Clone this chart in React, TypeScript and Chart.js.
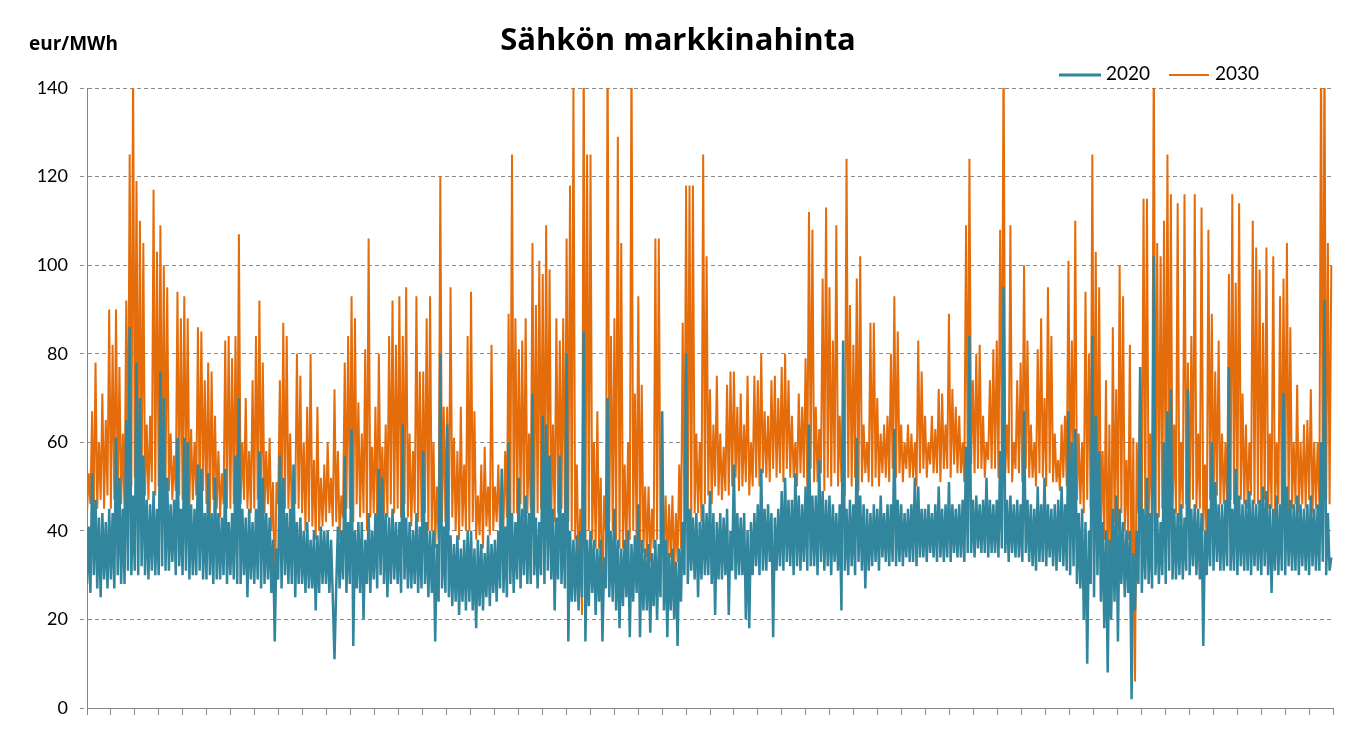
import React, { useEffect, useRef } from 'react';
import { Chart, registerables } from 'chart.js';

Chart.register(...registerables);

const TITLE = 'Sähkön markkinahinta';
const UNIT_LABEL = 'eur/MWh';
const SERIES_NAMES = ['2020', '2030'];
const SERIES_COLORS = ['#31859C', '#E46C0A'];
const HOURS_PER_SAMPLE = 12;
const HOURS_PER_YEAR = 8760;
const WEEK_HOURS = 168;
const Y_MIN = 0;
const Y_MAX = 140;
const Y_STEP = 20;

// 2020 market price, twice-daily samples (eur/MWh), one row per week
const price2020 = [
  28, 41, 26, 53, 30, 47, 27, 43, 25, 44, 29, 42, 27, 45,
  29, 44, 27, 61, 30, 52, 28, 45, 28, 65, 31, 86, 30, 48,
  31, 78, 30, 70, 32, 57, 30, 47, 29, 46, 31, 49, 30, 45,
  30, 76, 32, 70, 31, 52, 31, 46, 33, 47, 30, 61, 32, 45,
  30, 61, 31, 60, 29, 46, 30, 45, 30, 55, 31, 54, 29, 44,
  29, 53, 30, 44, 28, 52, 29, 44, 29, 43, 30, 54, 28, 42,
  30, 44, 29, 57, 28, 70, 28, 45, 30, 43, 25, 45, 29, 42,
  28, 45, 29, 58, 27, 52, 28, 44, 29, 43, 26, 38, 15, 36,
  29, 57, 27, 52, 30, 44, 28, 45, 28, 55, 25, 42, 28, 43,
  28, 40, 26, 42, 27, 38, 27, 40, 22, 39, 26, 41, 28, 40,
  28, 40, 26, 38, 25, 11, 27, 41, 27, 40, 29, 57, 26, 42,
  28, 63, 14, 40, 27, 42, 26, 42, 20, 38, 28, 44, 26, 40,
  29, 44, 27, 54, 30, 52, 28, 44, 25, 43, 28, 45, 29, 42,
  28, 42, 26, 64, 29, 43, 27, 42, 27, 40, 28, 44, 26, 41,
  27, 58, 28, 42, 25, 40, 26, 40, 15, 37, 24, 80, 27, 41,
  26, 64, 25, 39, 23, 37, 24, 39, 21, 36, 24, 38, 22, 40,
  24, 40, 22, 36, 18, 38, 23, 37, 22, 35, 25, 39, 23, 37,
  26, 38, 24, 40, 27, 54, 26, 41, 25, 60, 28, 44, 26, 42,
  29, 52, 27, 45, 30, 48, 28, 44, 28, 71, 30, 43, 27, 42,
  30, 66, 28, 64, 31, 57, 29, 45, 22, 43, 29, 57, 28, 44,
  27, 80, 15, 40, 24, 38, 24, 39, 22, 40, 25, 85, 15, 38,
  23, 40, 26, 38, 21, 36, 24, 38, 15, 34, 27, 70, 25, 40,
  24, 45, 22, 38, 18, 36, 23, 38, 25, 40, 16, 37, 24, 39,
  26, 46, 16, 38, 22, 36, 22, 37, 17, 35, 23, 38, 20, 37,
  25, 67, 22, 38, 16, 35, 22, 36, 20, 33, 14, 36, 24, 42,
  30, 80, 28, 45, 31, 43, 29, 44, 25, 42, 29, 46, 30, 44,
  30, 49, 28, 44, 21, 42, 29, 44, 29, 43, 30, 45, 21, 40,
  31, 55, 29, 44, 30, 43, 30, 44, 20, 40, 18, 42, 30, 44,
  32, 46, 30, 54, 31, 45, 31, 46, 33, 44, 16, 43, 31, 45,
  32, 49, 31, 52, 33, 47, 32, 47, 30, 53, 32, 48, 31, 46,
  33, 50, 31, 64, 32, 48, 32, 48, 30, 56, 33, 49, 31, 47,
  32, 48, 30, 46, 33, 44, 31, 46, 22, 83, 31, 45, 30, 47,
  32, 46, 30, 61, 33, 48, 31, 46, 27, 45, 31, 44, 32, 46,
  33, 45, 31, 48, 34, 44, 33, 46, 32, 46, 33, 63, 32, 47,
  33, 46, 32, 44, 34, 45, 33, 46, 33, 52, 32, 50, 34, 45,
  34, 45, 33, 46, 35, 44, 34, 46, 33, 50, 34, 45, 33, 46,
  34, 51, 33, 46, 35, 45, 34, 46, 34, 47, 33, 59, 35, 84,
  35, 47, 34, 48, 36, 46, 35, 47, 35, 52, 34, 47, 35, 46,
  35, 47, 34, 58, 36, 95, 35, 47, 33, 48, 35, 46, 34, 47,
  34, 46, 33, 67, 35, 47, 33, 46, 32, 45, 31, 50, 33, 46,
  33, 52, 32, 46, 34, 45, 32, 46, 31, 47, 33, 50, 32, 46,
  31, 67, 30, 60, 32, 63, 28, 44, 27, 45, 20, 42, 10, 40,
  28, 84, 25, 66, 30, 58, 24, 42, 18, 40, 8, 38, 20, 45,
  24, 48, 15, 45, 28, 42, 25, 40, 26, 40, 2, 35, 22, 40,
  28, 77, 26, 45, 29, 52, 28, 44, 27, 102, 30, 44, 28, 42,
  30, 60, 28, 67, 31, 72, 29, 45, 29, 44, 30, 46, 29, 43,
  31, 72, 30, 45, 32, 46, 30, 45, 29, 44, 14, 40, 30, 45,
  32, 60, 31, 51, 33, 46, 31, 46, 31, 47, 32, 77, 31, 45,
  31, 54, 30, 48, 32, 46, 31, 47, 31, 49, 30, 47, 32, 46,
  31, 47, 30, 50, 32, 49, 30, 46, 26, 45, 31, 48, 30, 46,
  31, 71, 30, 50, 32, 47, 31, 46, 31, 48, 30, 46, 32, 45,
  31, 46, 30, 48, 32, 45, 31, 46, 31, 60, 33, 92, 30, 44,
  31, 34,
];

// 2030 market price, twice-daily samples (eur/MWh), one row per week
const price2030 = [
  44, 53, 46, 67, 43, 78, 45, 60, 47, 71, 45, 65, 48, 90,
  45, 82, 47, 90, 46, 77, 46, 62, 44, 92, 48, 125, 50, 145,
  52, 119, 49, 110, 50, 105, 48, 64, 47, 66, 51, 117, 48, 103,
  50, 109, 48, 100, 51, 95, 49, 62, 47, 57, 49, 94, 48, 88,
  47, 93, 49, 88, 46, 63, 47, 60, 48, 86, 47, 85, 49, 74,
  46, 78, 44, 76, 47, 66, 45, 58, 43, 53, 46, 83, 45, 84,
  45, 79, 46, 84, 44, 107, 46, 60, 47, 70, 45, 58, 44, 74,
  45, 84, 47, 92, 44, 78, 44, 58, 46, 61, 40, 51, 23, 51,
  46, 74, 44, 87, 45, 84, 45, 62, 43, 52, 46, 80, 45, 75,
  44, 60, 40, 68, 42, 80, 41, 56, 38, 68, 40, 52, 41, 55,
  42, 60, 44, 52, 41, 72, 42, 58, 38, 48, 43, 78, 45, 84,
  45, 93, 42, 88, 46, 69, 43, 62, 44, 81, 40, 106, 43, 59,
  44, 68, 42, 80, 45, 59, 44, 64, 43, 84, 46, 92, 44, 82,
  45, 93, 43, 84, 46, 95, 43, 62, 41, 58, 44, 93, 42, 76,
  42, 76, 44, 88, 40, 93, 40, 60, 36, 50, 38, 120, 42, 68,
  42, 68, 40, 95, 43, 61, 40, 58, 38, 68, 41, 55, 40, 84,
  40, 94, 42, 67, 38, 48, 39, 55, 36, 59, 41, 50, 39, 82,
  40, 50, 42, 55, 39, 52, 41, 58, 43, 89, 41, 125, 44, 88,
  44, 81, 46, 83, 43, 88, 44, 62, 45, 105, 42, 91, 44, 101,
  45, 98, 43, 109, 46, 99, 44, 64, 42, 88, 44, 83, 45, 88,
  44, 106, 42, 118, 40, 140, 38, 55, 30, 45, 21, 150, 35, 125,
  40, 125, 38, 60, 36, 67, 36, 52, 22, 48, 40, 150, 42, 84,
  40, 88, 38, 129, 36, 105, 36, 55, 35, 60, 38, 150, 40, 71,
  38, 93, 36, 73, 35, 50, 34, 50, 33, 45, 36, 106, 38, 106,
  38, 52, 35, 48, 32, 46, 34, 48, 30, 44, 33, 55, 36, 87,
  42, 118, 45, 118, 40, 118, 44, 62, 44, 60, 42, 125, 46, 102,
  48, 72, 46, 64, 50, 75, 48, 62, 47, 59, 49, 73, 48, 76,
  50, 76, 52, 68, 49, 71, 50, 64, 51, 75, 48, 60, 50, 75,
  52, 74, 50, 80, 53, 67, 52, 66, 51, 74, 54, 75, 52, 70,
  53, 77, 51, 80, 54, 74, 52, 66, 52, 60, 50, 71, 53, 68,
  52, 79, 50, 112, 54, 108, 51, 68, 51, 63, 53, 97, 49, 113,
  52, 95, 50, 83, 53, 109, 50, 66, 51, 70, 48, 124, 52, 91,
  50, 82, 52, 97, 49, 102, 51, 64, 53, 60, 51, 87, 50, 87,
  52, 70, 50, 62, 53, 64, 52, 66, 51, 80, 54, 93, 52, 85,
  53, 64, 51, 60, 54, 64, 52, 62, 52, 60, 50, 83, 53, 76,
  54, 66, 52, 60, 55, 66, 53, 63, 53, 72, 51, 71, 54, 64,
  54, 89, 52, 72, 55, 68, 53, 66, 53, 60, 51, 109, 54, 124,
  55, 74, 53, 80, 54, 82, 54, 66, 52, 60, 56, 74, 54, 81,
  54, 83, 52, 108, 55, 150, 53, 64, 53, 109, 51, 60, 54, 74,
  53, 78, 51, 100, 54, 83, 52, 64, 52, 60, 50, 81, 53, 88,
  52, 70, 50, 95, 53, 84, 51, 62, 51, 56, 49, 64, 52, 66,
  50, 101, 48, 83, 51, 110, 47, 62, 46, 60, 44, 94, 47, 80,
  45, 125, 43, 103, 40, 95, 40, 58, 38, 74, 28, 64, 22, 86,
  42, 72, 40, 100, 44, 93, 40, 56, 38, 82, 25, 61, 6, 60,
  44, 77, 42, 115, 45, 115, 43, 62, 40, 150, 44, 105, 43, 102,
  45, 110, 43, 125, 46, 116, 44, 64, 44, 114, 42, 60, 45, 116,
  46, 78, 44, 84, 47, 116, 45, 62, 45, 113, 40, 55, 35, 108,
  47, 89, 45, 76, 48, 83, 46, 62, 46, 60, 44, 98, 47, 116,
  46, 96, 44, 114, 47, 71, 46, 64, 45, 60, 48, 110, 46, 104,
  46, 99, 44, 87, 47, 104, 45, 62, 45, 102, 43, 60, 46, 93,
  45, 97, 47, 105, 44, 86, 45, 60, 46, 73, 44, 60, 46, 64,
  45, 65, 47, 72, 44, 60, 45, 60, 46, 150, 48, 150, 47, 105,
  46, 100,
];

const FONT = 'Lato, "Open Sans", sans-serif';
const TITLE_FONT = '"Open Sans", Lato, sans-serif';

const overlayPlugin = {
  id: 'overlayTexts',
  afterDraw(chart: any) {
    const ctx = chart.ctx as CanvasRenderingContext2D;
    ctx.save();
    ctx.fillStyle = '#000000';
    ctx.textBaseline = 'middle';
    // title
    ctx.font = `bold 31px ${TITLE_FONT}`;
    ctx.textAlign = 'center';
    ctx.fillText(TITLE, 678, 41);
    // unit label
    ctx.font = `bold 19px ${TITLE_FONT}`;
    ctx.textAlign = 'left';
    ctx.fillText(UNIT_LABEL, 29, 45);
    // legend
    const legendItems = [
      { x1: 1059, x2: 1101, tx: 1106, w: 3 },
      { x1: 1169, x2: 1209, tx: 1215, w: 2 },
    ];
    ctx.font = `19px ${FONT}`;
    legendItems.forEach((it, i) => {
      ctx.strokeStyle = SERIES_COLORS[i];
      ctx.lineWidth = it.w;
      ctx.beginPath();
      ctx.moveTo(it.x1, 75);
      ctx.lineTo(it.x2, 75);
      ctx.stroke();
      ctx.fillStyle = '#000000';
      ctx.fillText(SERIES_NAMES[i], it.tx, 74);
    });
    ctx.restore();
  },
};

export default function App() {
  const canvasRef = useRef<HTMLCanvasElement | null>(null);

  useEffect(() => {
    if (!canvasRef.current) return;
    const toPoints = (arr: number[]) => arr.map((v, i) => ({ x: i * HOURS_PER_SAMPLE, y: v }));
    const chart = new Chart(canvasRef.current, {
      type: 'line',
      data: {
        datasets: [
          {
            label: SERIES_NAMES[0],
            data: toPoints(price2020),
            borderColor: SERIES_COLORS[0],
            backgroundColor: SERIES_COLORS[0],
            borderWidth: 2.5,
            pointRadius: 0,
            tension: 0,
            order: 0,
          },
          {
            label: SERIES_NAMES[1],
            data: toPoints(price2030),
            borderColor: SERIES_COLORS[1],
            backgroundColor: SERIES_COLORS[1],
            borderWidth: 2,
            pointRadius: 0,
            tension: 0,
            order: 1,
          },
        ],
      },
      options: {
        responsive: false,
        animation: false,
        events: [],
        layout: { padding: { top: 88, right: 25, left: 0, bottom: 0 } },
        plugins: {
          legend: { display: false },
          title: { display: false },
          tooltip: { enabled: false },
        },
        scales: {
          x: {
            type: 'linear',
            min: 0,
            max: HOURS_PER_YEAR,
            afterFit: (s: any) => { s.height = 24; },
            ticks: {
              display: false,
              stepSize: WEEK_HOURS,
              autoSkip: false,
              maxTicksLimit: 200,
              includeBounds: false,
            },
            grid: {
              drawOnChartArea: false,
              drawTicks: true,
              tickLength: 7,
              color: '#868686',
            },
            border: { display: true, color: '#868686', width: 1 },
          },
          y: {
            min: Y_MIN,
            max: Y_MAX,
            afterFit: (s: any) => { s.width = 87; },
            ticks: {
              stepSize: Y_STEP,
              padding: 12,
              color: '#000000',
              font: { family: FONT, size: 18 },
            },
            grid: {
              color: '#8c8c8c',
              tickLength: 7,
              tickBorderDash: [4, 3],
            },
            border: { display: true, color: '#868686', width: 1, dash: [4, 3] },
          },
        },
      },
      plugins: [overlayPlugin],
    });
    return () => chart.destroy();
  }, []);

  return (
    <div style={{ position: 'absolute', left: 0, top: 0, width: 1358, height: 732, background: '#fff' }}>
      <canvas ref={canvasRef} width={1358} height={732} style={{ display: 'block' }} />
    </div>
  );
}
